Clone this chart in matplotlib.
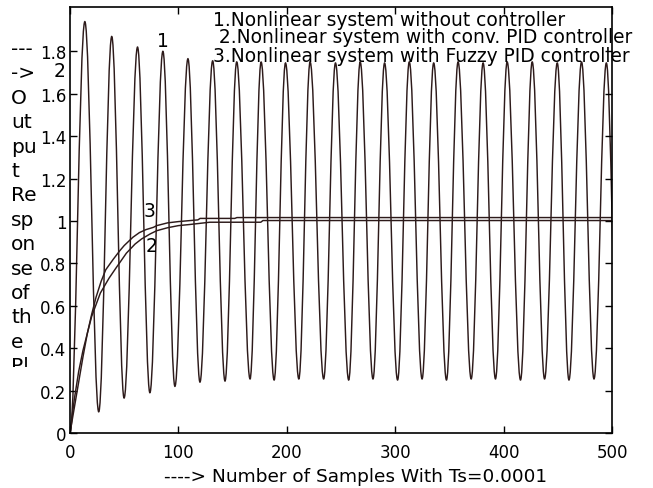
import matplotlib
matplotlib.use('Agg')
import matplotlib.pyplot as plt
from matplotlib.path import Path
from matplotlib.patches import PathPatch
from matplotlib.transforms import Bbox

# curve 1: nonlinear system without controller (extremes)
start_s = [0]
start_v = [0]
peak_s = [13.7, 38.5, 62.3, 85.7, 108.8, 131.6, 153.8, 176.3, 198.8, 221.5, 244.9,
          267.7, 290.2, 313.0, 335.5, 358.0, 381.1, 403.3, 426.4, 449.5, 471.9, 494.8]
peak_v = [1.94, 1.87, 1.82, 1.80, 1.765, 1.755, 1.75, 1.75, 1.745, 1.75, 1.745,
          1.75, 1.745, 1.75, 1.745, 1.75, 1.745, 1.75, 1.75, 1.745, 1.75, 1.745]
trough_s = [26.5, 49.9, 73.7, 96.8, 119.9, 143.0, 166.1, 188.3, 211.1, 234.0, 257.1,
            279.5, 302.2, 324.8, 347.3, 370.1, 392.5, 415.6, 437.8, 460.3, 483.4, 505.5]
trough_v = [0.10, 0.165, 0.19, 0.22, 0.24, 0.245, 0.255, 0.25, 0.255, 0.255, 0.25,
            0.255, 0.25, 0.255, 0.25, 0.255, 0.255, 0.25, 0.255, 0.25, 0.255, 0.255]

# curve 2: conventional PID
pid_s = [0, 4, 8, 12, 16, 20, 28, 36, 42, 52, 60, 66, 74, 80, 90, 100, 110, 129, 176, 178, 500]
pid_v = [0, 0.16, 0.29, 0.39, 0.47, 0.55, 0.66, 0.73, 0.775, 0.848, 0.891, 0.915, 0.939,
         0.954, 0.968, 0.978, 0.983, 0.994, 0.994, 1.002, 1.002]

# curve 3: fuzzy PID
fuzzy_s = [0, 4, 8, 12, 16, 20, 24, 28.7, 33, 40, 46, 50, 58, 64, 70, 77, 80, 90, 100, 118, 120, 152, 154, 500]
fuzzy_v = [0, 0.12, 0.24, 0.36, 0.47, 0.56, 0.64, 0.715, 0.77, 0.82, 0.86, 0.884, 0.923, 0.945,
           0.959, 0.970, 0.978, 0.991, 0.997, 1.005, 1.012, 1.012, 1.016, 1.016]

xticks = [0, 100, 200, 300, 400, 500]
yticks = [0, 0.2, 0.4, 0.6, 0.8, 1.0, 1.2, 1.4, 1.6, 1.8]
ytick_labels = ['0', '0.2', '0.4', '0.6', '0.8', '1', '1.2', '1.4', '1.6', '1.8']

legend_lines = ['1.Nonlinear system without controller',
                ' 2.Nonlinear system with conv. PID controller',
                '3.Nonlinear system with Fuzzy PID controller']
ylabel_parts = ['---', '->', 'O', 'ut', 'pu', 't', 'Re', 'sp', 'on', 'se', 'of', 'th', 'e', 'Pl']
xlabel = '----> Number of Samples With Ts=0.0001'

# order the extremes of curve 1
s1 = list(start_s)
v1 = list(start_v)
for i in range(len(peak_s)):
    s1 += [peak_s[i], trough_s[i]]
    v1 += [peak_v[i], trough_v[i]]

col = '#2d1a1a'
W, H = 653, 489
fig = plt.figure(figsize=(W / 100, H / 100), dpi=100)
ax = fig.add_axes([70 / W, 55 / H, 542 / W, 426 / H])

# smooth path through the extremes (flat tangent at every peak/trough)
k = 0.3634
verts = [(s1[0], v1[0])]
codes = [Path.MOVETO]
for i in range(1, len(s1)):
    dx = s1[i] - s1[i - 1]
    verts += [(s1[i - 1] + k * dx, v1[i - 1]), (s1[i] - k * dx, v1[i]), (s1[i], v1[i])]
    codes += [Path.CURVE4] * 3
ax.add_patch(PathPatch(Path(verts, codes), fill=False, edgecolor=col, lw=1.05))

ax.plot(pid_s, pid_v, color=col, lw=1.05)
ax.plot(fuzzy_s, fuzzy_v, color=col, lw=1.05)

ax.set_xlim(0, 500)
ax.set_ylim(0, 2.009)
ax.set_xticks(xticks)
ax.set_xticklabels([str(x) for x in xticks])
ax.set_yticks(yticks)
ax.set_yticklabels(ytick_labels)
ax.tick_params(direction='in', top=True, right=True, length=5, width=1, labelsize=12)
ax.tick_params(axis='x', pad=7)
ax.tick_params(axis='y', pad=2.5)
for sp in ax.spines.values():
    sp.set_linewidth(1.2)

# curve numbers
ax.text(85.6, 1.85, '1', fontsize=13.5, ha='center', va='center')
ax.text(-9.5, 1.71, '2', fontsize=13.5, ha='center', va='center', clip_on=False)
ax.text(73.7, 1.049, '3', fontsize=13.5, ha='center', va='center')
ax.text(75.2, 0.883, '2', fontsize=13.5, ha='center', va='center')

# legend text
leg_x = [131.9, 132.0, 131.9]
leg_y = [1.922, 1.843, 1.756]
for i, line in enumerate(legend_lines):
    ax.text(leg_x[i], leg_y[i], line, fontsize=13.4, ha='left', va='baseline', clip_on=False)

# x label
ax.text(0.527, -0.1, xlabel, transform=ax.transAxes, fontsize=13.3, ha='center', va='center')

# broken-up y label, clipped at the bottom like the original
clip = Bbox.from_extents(0, H - 368, W, H)
for i, part in enumerate(ylabel_parts):
    t = fig.text(11 / W, 1 - (55 + 24.4 * i) / H, part, fontsize=14.5, ha='left', va='baseline')
    t.set_clip_box(clip)
    t.set_clip_on(True)

fig.savefig('out.png', dpi=100)
